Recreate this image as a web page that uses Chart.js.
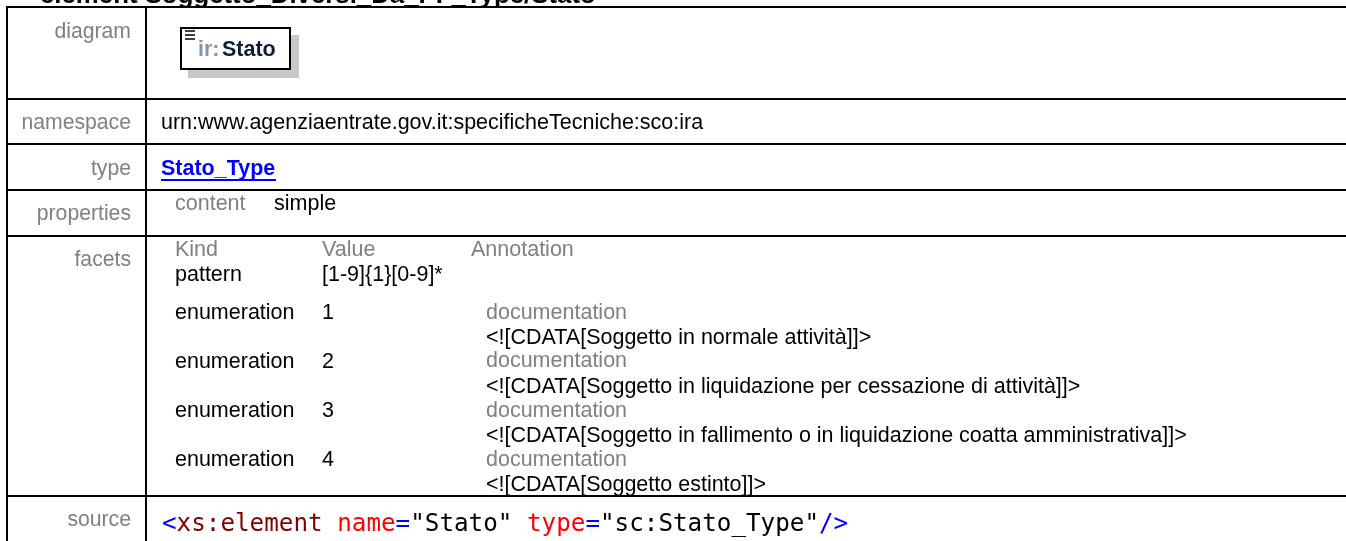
<!DOCTYPE html>
<html><head><meta charset="utf-8">
<script src="https://cdn.jsdelivr.net/npm/chart.js@4"></script>
<style>html,body{margin:0;padding:0;background:#fff;overflow:hidden}#w{position:relative;width:1346px;height:541px}</style>
</head><body><div id="w"><canvas id="c" width="1346" height="541"></canvas></div>
<script>
const rowLabels=["diagram","namespace","type","properties","facets","source"];
const rowRules=[7,99,144,190,236,496];
const columnRules=[7,146];
const title="element Soggetto_Diversi_Da_PF_Type/Stato";
const namespaceValue="urn:www.agenziaentrate.gov.it:specificheTecniche:sco:ira";
const typeValue="Stato_Type";
const facetHeads=["Kind","Value","Annotation"];
const facetKinds=["pattern","enumeration","enumeration","enumeration","enumeration"];
const facetValues=["[1-9]{1}[0-9]*","1","2","3","4"];
const docs=["<![CDATA[Soggetto in normale attività]]>","<![CDATA[Soggetto in liquidazione per cessazione di attività]]>","<![CDATA[Soggetto in fallimento o in liquidazione coatta amministrativa]]>","<![CDATA[Soggetto estinto]]>"];
const sourceParts=[["<","#0000ff"],["xs:element","#800000"],[" ","#000"],["name","#ff0000"],["=","#0000ff"],["\"Stato\"","#000"],[" ","#000"],["type","#ff0000"],["=","#0000ff"],["\"sc:Stato_Type\"","#000"],["/>","#0000ff"]];
const GREY="#808080",SANS="'Liberation Sans',Arial,sans-serif";
const textPlugin={id:"docText",afterDraw(ch){
 const c=ch.ctx,X=ch.scales.x,Y=ch.scales.y;
 const t=(s,x,y,col,font,al)=>{c.font=font;c.fillStyle=col;c.textAlign=al||"left";c.textBaseline="alphabetic";c.fillText(s,X.getPixelForValue(x),Y.getPixelForValue(y));};
 const F="21.5px "+SANS;
 c.save();
 // trim the rules to the table's outer frame
 c.fillStyle="#fff";c.fillRect(0,0,1346,6);c.fillRect(0,0,6,541);
 t(title,40,3,"#000","bold 25.8px "+SANS);
 [38,129,175,220,266,526].forEach((y,i)=>t(rowLabels[i],131,y,GREY,"21.2px "+SANS,"right"));
 t(namespaceValue,161,129,"#000",F);
 t(typeValue,161,175,"#0000ff","bold 21.5px "+SANS);
 c.strokeStyle="#0000ff";c.lineWidth=2;c.beginPath();c.moveTo(161,180);c.lineTo(276,180);c.stroke();
 t("content",175,210,GREY,F);t("simple",274,210,"#000",F);
 [175,322,471].forEach((x,i)=>t(facetHeads[i],x,256,GREY,F));
 [281,319,368,417,466].forEach((y,i)=>{t(facetKinds[i],175,y,"#000",F);t(facetValues[i],322,y,"#000",F);});
 [319,367,417,466].forEach((y,i)=>t("documentation",486,y,GREY,F));
 [344,393,442,491].forEach((y,i)=>t(docs[i],486,y,"#000",F));
 // diagram element
 c.fillStyle="#c8c8c8";c.fillRect(188,35,111,43);
 c.fillStyle="#fff";c.fillRect(181,28,109,41);
 c.strokeStyle="#000";c.lineWidth=2;c.strokeRect(181,28,109,41);
 c.lineWidth=1.5;[31,35,39].forEach(y=>{c.beginPath();c.moveTo(185,y);c.lineTo(195,y);c.stroke();});
 t("ir:",198,56,"#8296ab","bold 21.5px "+SANS);
 t("Stato",222,56,"#0f1c38","bold 21.5px "+SANS);
 // source
 let x=162;const MF="24.25px 'DejaVu Sans Mono',monospace";c.font=MF;
 sourceParts.forEach(([s,col])=>{t(s,x,531,col,MF);x+=c.measureText(s).width;});
 c.restore();
}};
new Chart(document.getElementById("c"),{type:"scatter",data:{datasets:[{data:[]}]},plugins:[textPlugin],options:{
 responsive:false,animation:false,layout:{padding:0},plugins:{legend:{display:false},tooltip:{enabled:false}},
 scales:{
  x:{type:"linear",min:0,max:1346,position:"top",border:{display:false},ticks:{display:false},grid:{color:"#000",lineWidth:2,drawTicks:false},afterBuildTicks:a=>{a.ticks=columnRules.map(v=>({value:v}));},afterFit:a=>{a.height=0;}},
  y:{type:"linear",min:0,max:541,reverse:true,border:{display:false},ticks:{display:false},grid:{color:"#000",lineWidth:2,drawTicks:false},afterBuildTicks:a=>{a.ticks=rowRules.map(v=>({value:v}));},afterFit:a=>{a.width=0;}}
 }}});
</script></body></html>
